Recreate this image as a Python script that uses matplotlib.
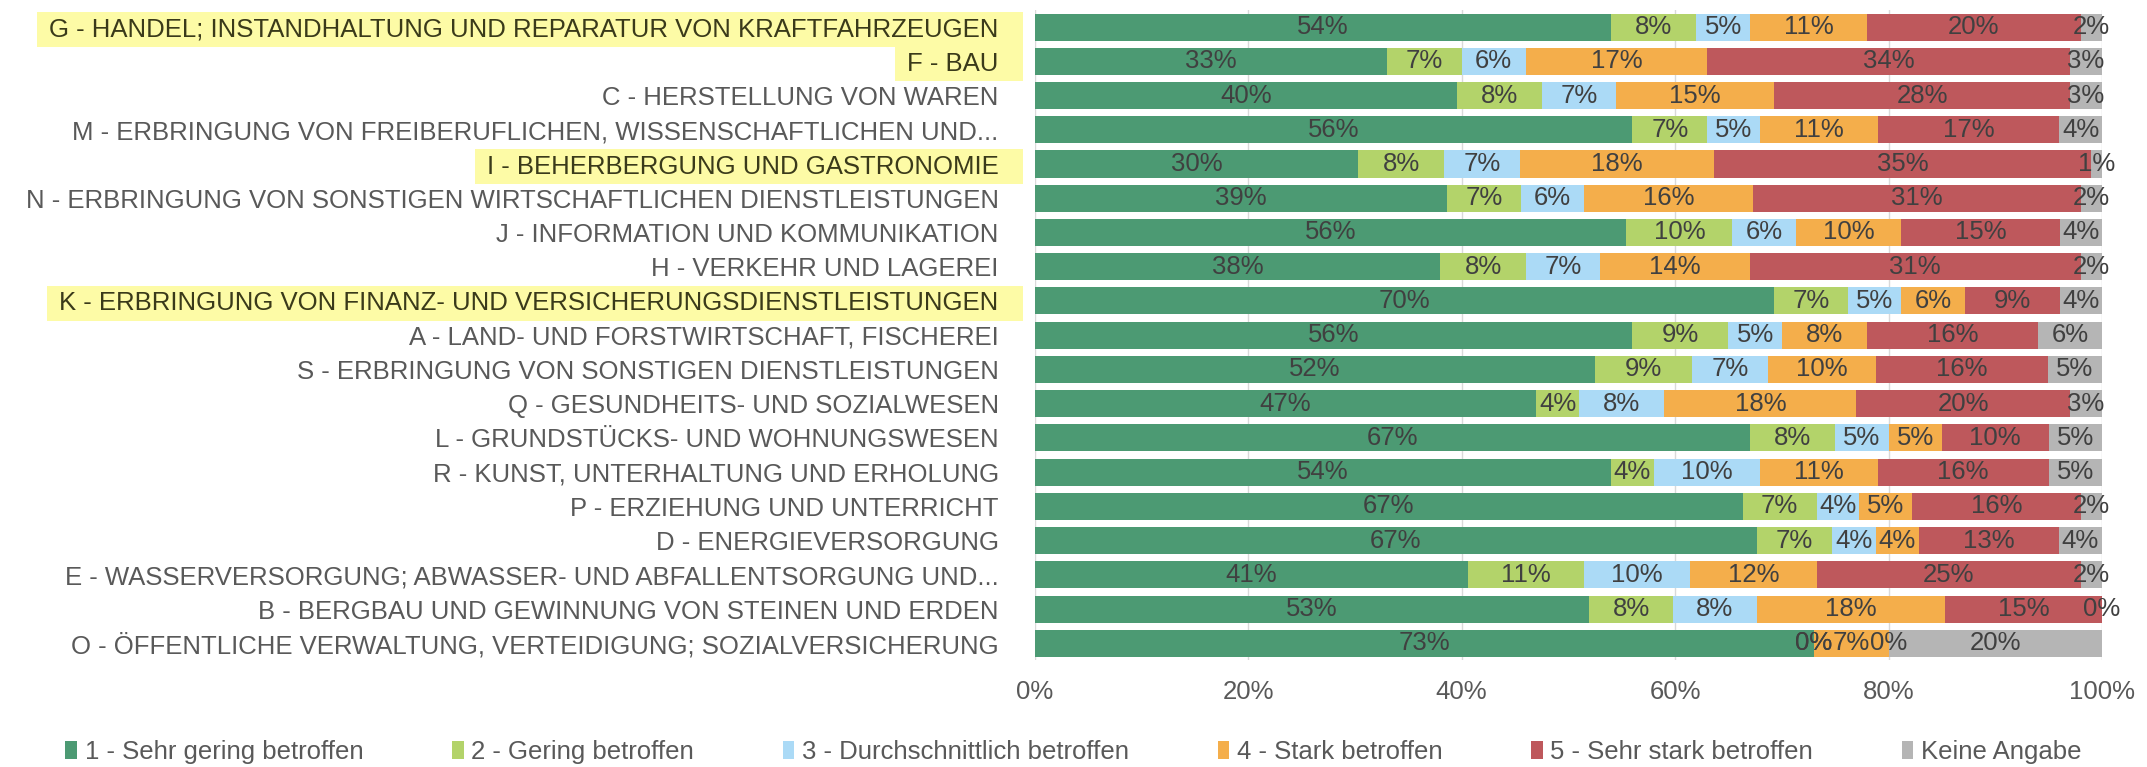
import matplotlib
matplotlib.use('Agg')
import matplotlib.pyplot as plt
import numpy as np
import pandas as pd

from matplotlib.patches import Patch, Rectangle
from matplotlib.ticker import PercentFormatter

plt.rcParams['font.family'] = ['Liberation Sans', 'DejaVu Sans']

CATEGORIES = [
  'G - HANDEL; INSTANDHALTUNG UND REPARATUR VON KRAFTFAHRZEUGEN',
  'F - BAU',
  'C - HERSTELLUNG VON WAREN',
  'M - ERBRINGUNG VON FREIBERUFLICHEN, WISSENSCHAFTLICHEN UND...',
  'I - BEHERBERGUNG UND GASTRONOMIE',
  'N - ERBRINGUNG VON SONSTIGEN WIRTSCHAFTLICHEN DIENSTLEISTUNGEN',
  'J - INFORMATION UND KOMMUNIKATION',
  'H - VERKEHR UND LAGEREI',
  'K - ERBRINGUNG VON FINANZ- UND VERSICHERUNGSDIENSTLEISTUNGEN',
  'A - LAND- UND FORSTWIRTSCHAFT, FISCHEREI',
  'S - ERBRINGUNG VON SONSTIGEN DIENSTLEISTUNGEN',
  'Q - GESUNDHEITS- UND SOZIALWESEN',
  'L - GRUNDSTÜCKS- UND WOHNUNGSWESEN',
  'R - KUNST, UNTERHALTUNG UND ERHOLUNG',
  'P - ERZIEHUNG UND UNTERRICHT',
  'D - ENERGIEVERSORGUNG',
  'E - WASSERVERSORGUNG; ABWASSER- UND ABFALLENTSORGUNG UND...',
  'B - BERGBAU UND GEWINNUNG VON STEINEN UND ERDEN',
  'O - ÖFFENTLICHE VERWALTUNG, VERTEIDIGUNG; SOZIALVERSICHERUNG',
]
HIGHLIGHTED = ['G', 'F', 'I', 'K']

SERIES = [
  '1 - Sehr gering betroffen',
  '2 - Gering betroffen',
  '3 - Durchschnittlich betroffen',
  '4 - Stark betroffen',
  '5 - Sehr stark betroffen',
  'Keine Angabe',
]

sehr_gering = [54, 33, 40, 56, 30, 39, 56, 38, 70, 56, 52, 47, 67, 54, 67, 67, 41, 53, 73]
gering = [8, 7, 8, 7, 8, 7, 10, 8, 7, 9, 9, 4, 8, 4, 7, 7, 11, 8, 0]
durchschnittlich = [5, 6, 7, 5, 7, 6, 6, 7, 5, 5, 7, 8, 5, 10, 4, 4, 10, 8, 0]
stark = [11, 17, 15, 11, 18, 16, 10, 14, 6, 8, 10, 18, 5, 11, 5, 4, 12, 18, 7]
sehr_stark = [20, 34, 28, 17, 35, 31, 15, 31, 9, 16, 16, 20, 10, 16, 16, 13, 25, 15, 0]
keine_angabe = [2, 3, 3, 4, 1, 2, 4, 2, 4, 6, 5, 3, 5, 5, 2, 4, 2, 0, 20]

COLORS = ['#4C9A73', '#B3D36A', '#ABDAF6', '#F4AE4B', '#BE585C', '#B5B5B5']
FONT_SIZE = 18.5


def build_frame() -> pd.DataFrame:
  df = pd.DataFrame(
    [sehr_gering, gering, durchschnittlich, stark, sehr_stark, keine_angabe],
    index=SERIES,
    columns=CATEGORIES,
  ).T
  return df


def build_chart(df: pd.DataFrame) -> None:
  fig = plt.figure(figsize=(21.47, 7.67), dpi=100)
  ax = fig.add_axes([0.482, 0.139, 0.497, 0.848])

  # bars are normalised to 100 %, labels keep the rounded values
  shares = df.div(df.sum(axis=1), axis=0) * 100
  ys = np.arange(len(df))
  left = np.zeros(len(df))

  for name, color in zip(SERIES, COLORS):
    bars = ax.barh(ys, shares[name], left=left, height=0.79, color=color, zorder=2)
    for bar, value in zip(bars, df[name]):
      ax.text(
        bar.get_x() + bar.get_width() / 2,
        bar.get_y() + bar.get_height() / 2,
        f'{value}%',
        ha='center', va='center',
        fontsize=FONT_SIZE, color='#404040', zorder=3,
      )
    left += shares[name].values

  ax.set_xlim(0, 100)
  ax.set_ylim(len(df) - 0.5, -0.5)
  ax.set_xticks(np.arange(0, 101, 20))
  ax.xaxis.set_major_formatter(PercentFormatter(decimals=0))
  ax.set_yticks(ys)
  ax.set_yticklabels(df.index)
  ax.tick_params(axis='x', length=0, labelsize=FONT_SIZE, labelcolor='#595959', pad=14)
  ax.tick_params(axis='y', length=0, labelsize=FONT_SIZE, labelcolor='#595959', pad=26)
  ax.grid(axis='x', color='#D9D9D9', linewidth=1, zorder=0)
  for spine in ax.spines.values():
    spine.set_visible(False)

  handles = [Patch(facecolor=c, edgecolor='none') for c in COLORS]
  fig.legend(
    handles, SERIES,
    loc='center', bbox_to_anchor=(0.5, 0.02),
    ncol=6, frameon=False, fontsize=FONT_SIZE,
    labelcolor='#595959',
    handlelength=0.45, handleheight=0.7, handletextpad=0.3,
    columnspacing=3.45,
  )

  fig.canvas.draw()
  mark_highlights(fig, ax)
  fig.savefig('out.png', dpi=100)


def mark_highlights(fig, ax) -> None:
  renderer = fig.canvas.get_renderer()
  axes_left = ax.get_window_extent().x0
  row_height = ax.transData.transform((0, 0))[1] - ax.transData.transform((0, 1))[1]

  for label in ax.get_yticklabels():
    if label.get_text().split(' ')[0] not in HIGHLIGHTED:
      continue
    label.set_color('#3A3A1A')
    box = label.get_window_extent(renderer)
    yc = (box.y0 + box.y1) / 2
    x0 = box.x0 - 12
    x1 = axes_left - 12
    rect = Rectangle(
      (x0, yc - row_height * 0.5), x1 - x0, row_height,
      transform=None, facecolor='#FDFBA6', edgecolor='none', zorder=-1,
    )
    fig.patches.append(rect)


build_chart(build_frame())
